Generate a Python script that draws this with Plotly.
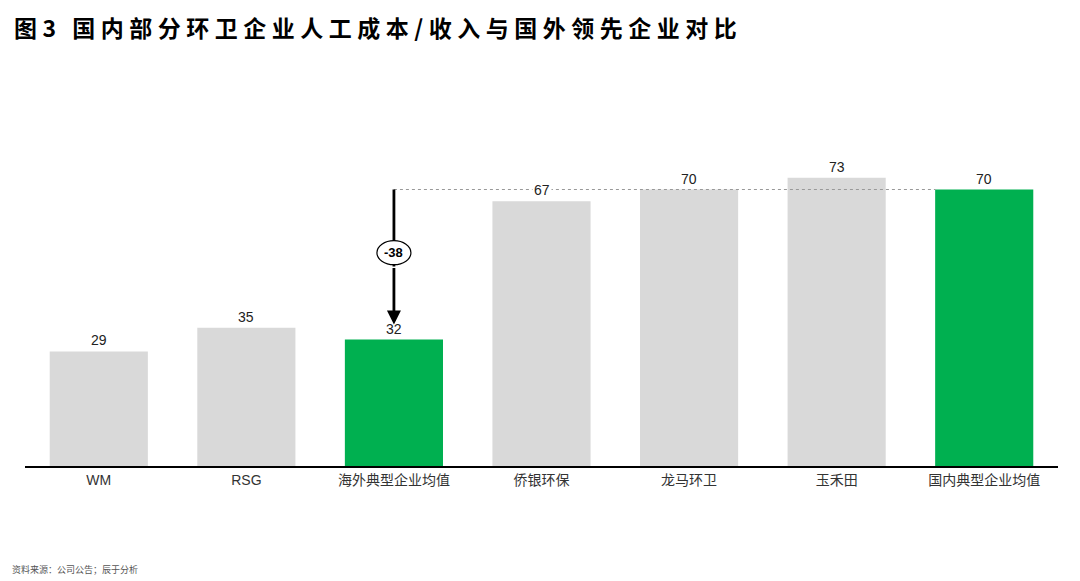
import plotly.graph_objects as go

categories = ["WM", "RSG", "海外典型企业均值", "侨银环保", "龙马环卫", "玉禾田", "国内典型企业均值"]
values = [29, 35, 32, 67, 70, 73, 70]
colors = ["#d9d9d9", "#d9d9d9", "#00b050", "#d9d9d9", "#d9d9d9", "#d9d9d9", "#00b050"]

overseas_idx = 2
domestic_idx = 6
gap_value = values[overseas_idx] - values[domestic_idx]

title_text = "图3 国内部分环卫企业人工成本/收入与国外领先企业对比"
source_text = "资料来源：公司公告；辰于分析"

font_main = "Liberation Sans, Arial, Noto Sans CJK SC"

# where the "-38" bubble sits on the arrow (y units), and where the arrow head part starts
bubble_y = 54
head_start = 50.5

fig = go.Figure(
    go.Bar(
        x=categories,
        y=values,
        marker=dict(color=colors, line=dict(width=0)),
        hoverinfo="x+y",
    )
)

# value labels above bars (white background so the dotted line breaks)
annotations = []
for c, v in zip(categories, values):
    annotations.append(
        dict(
            x=c, y=v, xref="x", yref="y",
            text=str(v), showarrow=False,
            yanchor="bottom", yshift=1,
            bgcolor="white", borderpad=1,
            font=dict(family=font_main, size=14, color="#222222"),
        )
    )

# lower half of the arrow, with the head
annotations.append(
    dict(
        x=overseas_idx, y=values[overseas_idx], xref="x", yref="y",
        ax=overseas_idx, ay=head_start, axref="x", ayref="y",
        text="", showarrow=True, arrowhead=2, arrowsize=1,
        arrowwidth=2.8, arrowcolor="black", standoff=15,
    )
)
annotations.append(
    dict(
        x=overseas_idx, y=bubble_y, xref="x", yref="y",
        text="<b>%d</b>" % gap_value, showarrow=False,
        font=dict(family=font_main, size=13, color="black"),
    )
)

# source note
annotations.append(
    dict(
        x=-0.015, y=-0.263, xref="paper", yref="paper",
        xanchor="left", yanchor="middle",
        text=source_text, showarrow=False,
        font=dict(family="Noto Sans CJK SC", size=9, color="#555555"),
    )
)

# page body has an 8px margin, so the figure is a bit smaller than the window
fig.update_layout(
    width=1072,
    height=573,
    plot_bgcolor="white",
    paper_bgcolor="white",
    bargap=0.335,
    showlegend=False,
    margin=dict(l=17, r=22, t=63, b=115),
    title=dict(
        text="<b>" + title_text + "</b>",
        x=0.0056, xanchor="left", y=0.963, yanchor="middle",
        font=dict(family="Noto Sans CJK SC", size=23, color="black"),
    ),
    xaxis=dict(
        showline=True, linecolor="black", linewidth=2,
        ticks="", tickfont=dict(family=font_main, size=14, color="#333333"),
        showgrid=False,
    ),
    yaxis=dict(range=[0, 100], visible=False, showgrid=False),
    shapes=[
        dict(
            type="line", xref="x", yref="y",
            x0=overseas_idx, x1=domestic_idx - 0.33,
            y0=values[domestic_idx], y1=values[domestic_idx],
            line=dict(color="#999999", width=1, dash="dot"),
        ),
        # upper half of the arrow, runs under the bubble
        dict(
            type="line", xref="x", yref="y",
            x0=overseas_idx, x1=overseas_idx,
            y0=values[domestic_idx], y1=head_start,
            line=dict(color="black", width=2.8),
        ),
        dict(
            type="circle", xref="x", yref="y",
            xsizemode="pixel", xanchor=overseas_idx, x0=-17, x1=17,
            ysizemode="pixel", yanchor=bubble_y, y0=-12, y1=12,
            fillcolor="white", line=dict(color="black", width=1.2),
        ),
    ],
    annotations=annotations,
)

# wider letter spacing on the title, like the original report
post = """
var t = document.querySelector('.gtitle');
if (t) { t.style.letterSpacing = '5.5px'; }
"""

fig.write_html("out.html", post_script=post)
